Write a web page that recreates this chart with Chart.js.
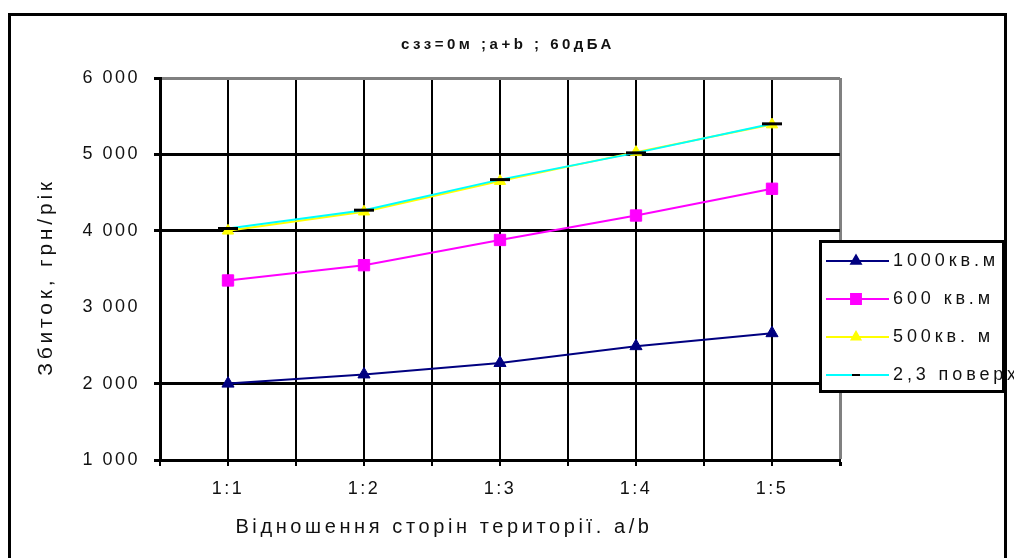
<!DOCTYPE html>
<html>
<head>
<meta charset="utf-8">
<title>Збиток, грн/рік</title>
<script src="https://cdn.jsdelivr.net/npm/chart.js@4.4.1/dist/chart.umd.min.js"></script>
<style>
  html, body { margin: 0; padding: 0; background: #fff; }
  #wrap { width: 1014px; height: 558px; position: relative; }
  canvas { display: block; }
</style>
</head>
<body>
<div id="wrap"><canvas id="c" width="1014" height="558"></canvas></div>
<script>
// Side ratio categories and annual loss series (грн/рік)
const categories = ['1:1', '1:2', '1:3', '1:4', '1:5'];
const area1000 = [2000, 2120, 2270, 2490, 2660];
const area600  = [3350, 3550, 3880, 4200, 4550];
const area500  = [4000, 4250, 4650, 5030, 5390];
const floors23 = [4030, 4270, 4670, 5020, 5400];
const seriesNames = ['1000кв.м', '600 кв.м', '500кв. м', '2,3 поверх'];
const yTicks = [1000, 2000, 3000, 4000, 5000, 6000];
const chartTitle = 'сзз=0м ;a+b ; 60дБА';
const xTitle = 'Відношення сторін території. a/b';
const yTitle = 'Збиток, грн/рік';

const FONT = "'Liberation Sans', Arial, sans-serif";
const TEXT = '#111';

const toPoints = vals => vals.map((v, i) => ({ x: i + 1, y: v }));
const fmtThousands = v => String(v).replace(/\B(?=(\d{3})+(?!\d))/g, ' ');

function drawText(ctx, text, x, y, o) {
  ctx.save();
  ctx.font = o.font;
  ctx.fillStyle = o.color || TEXT;
  if ('letterSpacing' in ctx) ctx.letterSpacing = (o.spacing || 0) + 'px';
  ctx.textAlign = o.align || 'center';
  ctx.textBaseline = 'middle';
  ctx.translate(x, y);
  if (o.rotate) ctx.rotate(o.rotate);
  ctx.fillText(text, 0, 0);
  ctx.restore();
}

// Frame, titles and the boxed legend
const decor = {
  id: 'decor',
  beforeDraw(chart) {
    const ctx = chart.ctx;
    ctx.save();
    ctx.fillStyle = '#fff';
    ctx.fillRect(0, 0, chart.width, chart.height);
    ctx.strokeStyle = '#000';
    ctx.lineWidth = 3;
    ctx.beginPath();
    ctx.moveTo(9.5, chart.height);
    ctx.lineTo(9.5, 14.5);
    ctx.lineTo(1005.5, 14.5);
    ctx.lineTo(1005.5, chart.height);
    ctx.stroke();
    ctx.restore();
    if ('letterSpacing' in ctx) ctx.letterSpacing = '2.5px';
  },
  afterDraw(chart) {
    const ctx = chart.ctx;

    drawText(ctx, chartTitle, 508, 45, { font: `bold 15px ${FONT}`, spacing: 3.5 });
    drawText(ctx, yTitle, 46, 277, { font: `21px ${FONT}`, spacing: 3.8, rotate: -Math.PI / 2 });
    drawText(ctx, xTitle, 444, 527, { font: `20px ${FONT}`, spacing: 3.6 });

    // legend box
    const box = { l: 819, t: 240, r: 1005, b: 393 };
    ctx.save();
    ctx.fillStyle = '#fff';
    ctx.fillRect(box.l, box.t, box.r - box.l, box.b - box.t);
    ctx.strokeStyle = '#000';
    ctx.lineWidth = 3;
    ctx.strokeRect(box.l + 1.5, box.t + 1.5, box.r - box.l - 3, box.b - box.t - 3);
    ctx.restore();

    const rows = [261, 299, 337, 375];
    const markerR = [5.5, 7, 5, 4];
    chart.data.datasets.forEach((ds, i) => {
      const y = rows[i];
      ctx.save();
      ctx.strokeStyle = ds.borderColor;
      ctx.lineWidth = 2;
      ctx.beginPath();
      ctx.moveTo(826, y);
      ctx.lineTo(889, y);
      ctx.stroke();
      ctx.fillStyle = ds.pointBackgroundColor;
      ctx.strokeStyle = ds.pointBorderColor;
      Chart.helpers.drawPoint(ctx, {
        pointStyle: ds.pointStyle,
        radius: markerR[i],
        borderWidth: ds.pointBorderWidth,
        rotation: 0
      }, 856, y);
      ctx.restore();
      drawText(ctx, ds.label, 893, y, { font: `18px ${FONT}`, spacing: 3.9, align: 'left' });
    });
  }
};

const datasets = [
  { label: seriesNames[0], data: toPoints(area1000), borderColor: '#000080',
    pointBackgroundColor: '#000080', pointBorderColor: '#000080', pointBorderWidth: 1,
    pointStyle: 'triangle', pointRadius: 7, order: 0 },
  { label: seriesNames[1], data: toPoints(area600), borderColor: '#FF00FF',
    pointBackgroundColor: '#FF00FF', pointBorderColor: '#FF00FF', pointBorderWidth: 1,
    pointStyle: 'rect', pointRadius: 8, order: 0 },
  { label: seriesNames[2], data: toPoints(area500), borderColor: '#FFFF00',
    pointBackgroundColor: '#FFFF00', pointBorderColor: '#FFFF00', pointBorderWidth: 1,
    pointStyle: 'triangle', pointRadius: 6.5, order: 1 },
  { label: seriesNames[3], data: toPoints(floors23), borderColor: '#00FFFF',
    pointBackgroundColor: '#000', pointBorderColor: '#000', pointBorderWidth: 3,
    pointStyle: 'line', pointRadius: 10, order: 0 }
].map(d => Object.assign({ borderWidth: 2, tension: 0, fill: false, clip: false }, d));

new Chart(document.getElementById('c'), {
  type: 'line',
  data: { datasets },
  plugins: [decor],
  options: {
    responsive: false,
    animation: false,
    events: [],
    layout: { padding: { left: 0, top: 78, right: 174, bottom: 48 } },
    plugins: {
      legend: { display: false },
      title: { display: false },
      tooltip: { enabled: false }
    },
    scales: {
      x: {
        type: 'linear',
        min: 0.5,
        max: 5.5,
        ticks: {
          stepSize: 0.5,
          autoSkip: false,
          maxRotation: 0,
          padding: 12,
          color: TEXT,
          font: { family: FONT, size: 18 },
          callback: v => (Number.isInteger(v) ? categories[v - 1] : '')
        },
        grid: {
          color: c => (c.tick && c.tick.value === 5.5 ? '#808080' : '#000'),
          lineWidth: c => (c.tick && c.tick.value === 5.5 ? 3 : 2),
          tickColor: '#000',
          tickLength: 6
        },
        border: { color: '#000', width: 3 },
        afterFit: s => { s.height = 50; }
      },
      y: {
        min: 1000,
        max: 6000,
        afterBuildTicks: s => { s.ticks = yTicks.map(v => ({ value: v })); },
        ticks: {
          padding: 14,
          color: TEXT,
          font: { family: FONT, size: 18 },
          callback: v => fmtThousands(v)
        },
        grid: {
          color: c => {
            const v = c.tick && c.tick.value;
            if (v === 6000) return '#808080';
            if (v === 3000) return 'rgba(0,0,0,0)';
            return '#000';
          },
          lineWidth: 3,
          tickColor: c => (c.tick && c.tick.value === 3000 ? 'rgba(0,0,0,0)' : '#000'),
          tickLength: 6
        },
        border: { color: '#000', width: 3 },
        afterFit: s => { s.width = 160; }
      }
    }
  }
});
</script>
</body>
</html>
